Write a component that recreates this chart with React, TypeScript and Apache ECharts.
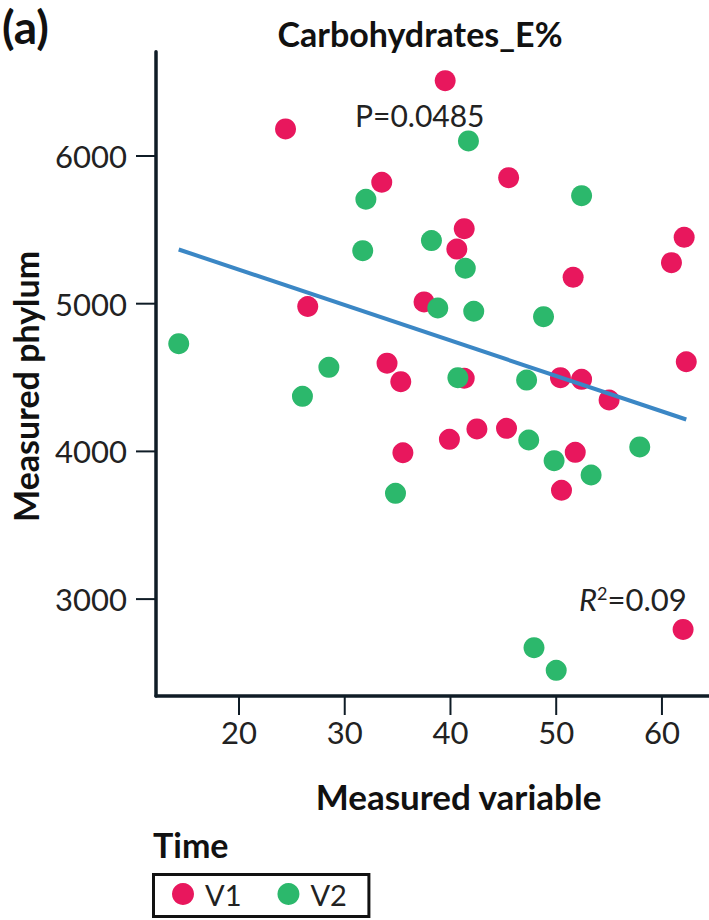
import React, { useEffect, useRef } from "react";
import * as echarts from "echarts";

const seriesNames = ["V1", "V2"];
const v1X = [39.5, 24.4, 33.5, 45.5, 41.3, 40.6, 62.1, 60.9, 51.6, 26.5, 37.5, 34.0, 35.3, 41.3, 50.4, 52.4, 55.0, 62.3, 35.5, 39.9, 42.5, 45.3, 51.8, 50.5, 62.0];
const v1Y = [6510, 6183, 5822, 5853, 5508, 5370, 5450, 5278, 5179, 4981, 5012, 4597, 4472, 4495, 4499, 4488, 4348, 4607, 3991, 4082, 4152, 4156, 3994, 3737, 2795];
const v2X = [14.3, 26.0, 28.5, 41.7, 32.0, 31.7, 38.2, 41.4, 38.8, 42.2, 48.8, 52.4, 40.7, 47.2, 47.4, 49.8, 53.3, 57.9, 34.8, 47.9, 50.0];
const v2Y = [4729, 4373, 4569, 6102, 5707, 5359, 5427, 5240, 4971, 4949, 4912, 5731, 4499, 4483, 4077, 3937, 3840, 4030, 3716, 2671, 2518];
const fitX = [14.3, 62.3];
const fitY = [5367, 4216];
const xTicks = [20, 30, 40, 50, 60];
const yTicks = [3000, 4000, 5000, 6000];
const xRange = [12.15, 64.45];
const yRange = [2344, 6706];

const FONT = "Lato";
const AXIS = "#0f1c26";
const RED = "#e8175d";
const GREEN = "#2cb86c";
const BLUE = "#3b87c5";

export default function App() {
  const ref = useRef<HTMLDivElement>(null);
  useEffect(() => {
    if (!ref.current) return;
    const chart = echarts.init(ref.current, undefined, { renderer: "svg" });
    const zip = (xs: number[], ys: number[]) => xs.map((x, i) => [x, ys[i]]);
    chart.setOption({
      animation: false,
      backgroundColor: "#ffffff",
      title: {
        text: "Carbohydrates_E%",
        left: 420,
        top: 33,
        padding: 0,
        textAlign: "center",
        textVerticalAlign: "middle",
        textStyle: { fontFamily: FONT, fontWeight: "bold", fontSize: 34, color: "#111" },
      },
      grid: { left: 153, right: 0, top: 51.7, bottom: 224, containLabel: false },
      xAxis: {
        type: "value",
        min: xRange[0],
        max: xRange[1],
        name: "Measured variable",
        nameLocation: "middle",
        nameGap: 100,
        nameTextStyle: {
          fontFamily: FONT,
          fontWeight: "bold",
          fontSize: 35,
          color: "#111",
          verticalAlign: "middle",
          align: "center",
          padding: [0, 0, 0, 52],
        },
        axisLine: { show: true, lineStyle: { color: AXIS, width: 3.5 } },
        axisTick: { show: false },
        axisLabel: {
          customValues: xTicks,
          fontFamily: FONT,
          fontSize: 31,
          color: "#222",
          margin: 20,
          formatter: (v: number) => String(v),
        },
        splitLine: { show: false },
      },
      yAxis: {
        type: "value",
        min: yRange[0],
        max: yRange[1],
        name: "Measured phylum",
        nameLocation: "middle",
        nameGap: 131,
        nameTextStyle: {
          fontFamily: FONT,
          fontWeight: "bold",
          fontSize: 34,
          color: "#111",
          verticalAlign: "middle",
          align: "center",
          padding: [0, 25, 0, 0],
        },
        axisLine: { show: true, lineStyle: { color: AXIS, width: 3.5 } },
        axisTick: { show: false },
        axisLabel: {
          customValues: yTicks,
          fontFamily: FONT,
          fontSize: 31,
          color: "#222",
          margin: 29,
          formatter: (v: number) => String(v),
        },
        splitLine: { show: false },
      },
      legend: {
        data: seriesNames,
        left: 153.5,
        top: 874.5,
        orient: "horizontal",
        icon: "circle",
        itemWidth: 22,
        itemHeight: 22,
        itemGap: 36,
        padding: [5, 22, 8, 18.5],
        borderColor: "#111",
        borderWidth: 3,
        borderRadius: 0,
        textStyle: { fontFamily: FONT, fontSize: 29, color: "#222", padding: [0, 0, 0, 6] },
      },
      graphic: [
        {
          type: "text",
          x: 2,
          y: 26,
          style: { text: "(a)", fontFamily: FONT, fontWeight: "bold", fontSize: 46, fill: "#111", verticalAlign: "middle" },
        },
        {
          type: "text",
          x: 355,
          y: 114.5,
          style: { text: "P=0.0485", fontFamily: FONT, fontSize: 30, fill: "#222", verticalAlign: "middle" },
        },
        {
          type: "text",
          x: 579,
          y: 599,
          style: {
            text: "{r|R}{s|2}{n|=0.09}",
            fontFamily: FONT,
            fontSize: 30,
            fill: "#222",
            verticalAlign: "middle",
            rich: {
              r: { fontFamily: FONT, fontSize: 31, fontStyle: "italic", fill: "#222" },
              s: { fontFamily: FONT, fontSize: 18, fill: "#222", verticalAlign: "top" },
              n: { fontFamily: FONT, fontSize: 31, fill: "#222" },
            },
          },
        },
        {
          type: "text",
          x: 153,
          y: 844.5,
          style: { text: "Time", fontFamily: FONT, fontWeight: "bold", fontSize: 34, fill: "#111", verticalAlign: "middle" },
        },
      ],
      series: [
        {
          name: seriesNames[0],
          type: "scatter",
          data: zip(v1X, v1Y),
          symbolSize: 21,
          itemStyle: { color: RED, opacity: 1 },
          emphasis: { disabled: true },
          z: 2,
        },
        {
          name: seriesNames[1],
          type: "scatter",
          data: zip(v2X, v2Y),
          symbolSize: 21,
          itemStyle: { color: GREEN, opacity: 1 },
          emphasis: { disabled: true },
          z: 3,
        },
        {
          name: "fit",
          type: "line",
          data: zip(fitX, fitY),
          showSymbol: false,
          symbol: "none",
          lineStyle: { color: BLUE, width: 4 },
          emphasis: { disabled: true },
          z: 4,
        },
        {
          name: "xTicks",
          type: "custom",
          coordinateSystem: "cartesian2d",
          clip: false,
          silent: true,
          z: 1,
          data: xTicks.map((v) => [v, yRange[0]]),
          renderItem: (_p: any, api: any) => {
            const p = api.coord([api.value(0), api.value(1)]);
            return {
              type: "line",
              shape: { x1: p[0], y1: p[1], x2: p[0], y2: p[1] + 19 },
              style: { stroke: AXIS, lineWidth: 2 },
            };
          },
        },
        {
          name: "yTicks",
          type: "custom",
          coordinateSystem: "cartesian2d",
          clip: false,
          silent: true,
          z: 1,
          data: yTicks.map((v) => [xRange[0], v]),
          renderItem: (_p: any, api: any) => {
            const p = api.coord([api.value(0), api.value(1)]);
            return {
              type: "line",
              shape: { x1: p[0] - 20, y1: p[1], x2: p[0], y2: p[1] },
              style: { stroke: AXIS, lineWidth: 2 },
            };
          },
        },
      ],
    });
    return () => chart.dispose();
  }, []);
  return <div ref={ref} style={{ position: "absolute", left: 0, top: 0, width: 709, height: 920 }} />;
}
